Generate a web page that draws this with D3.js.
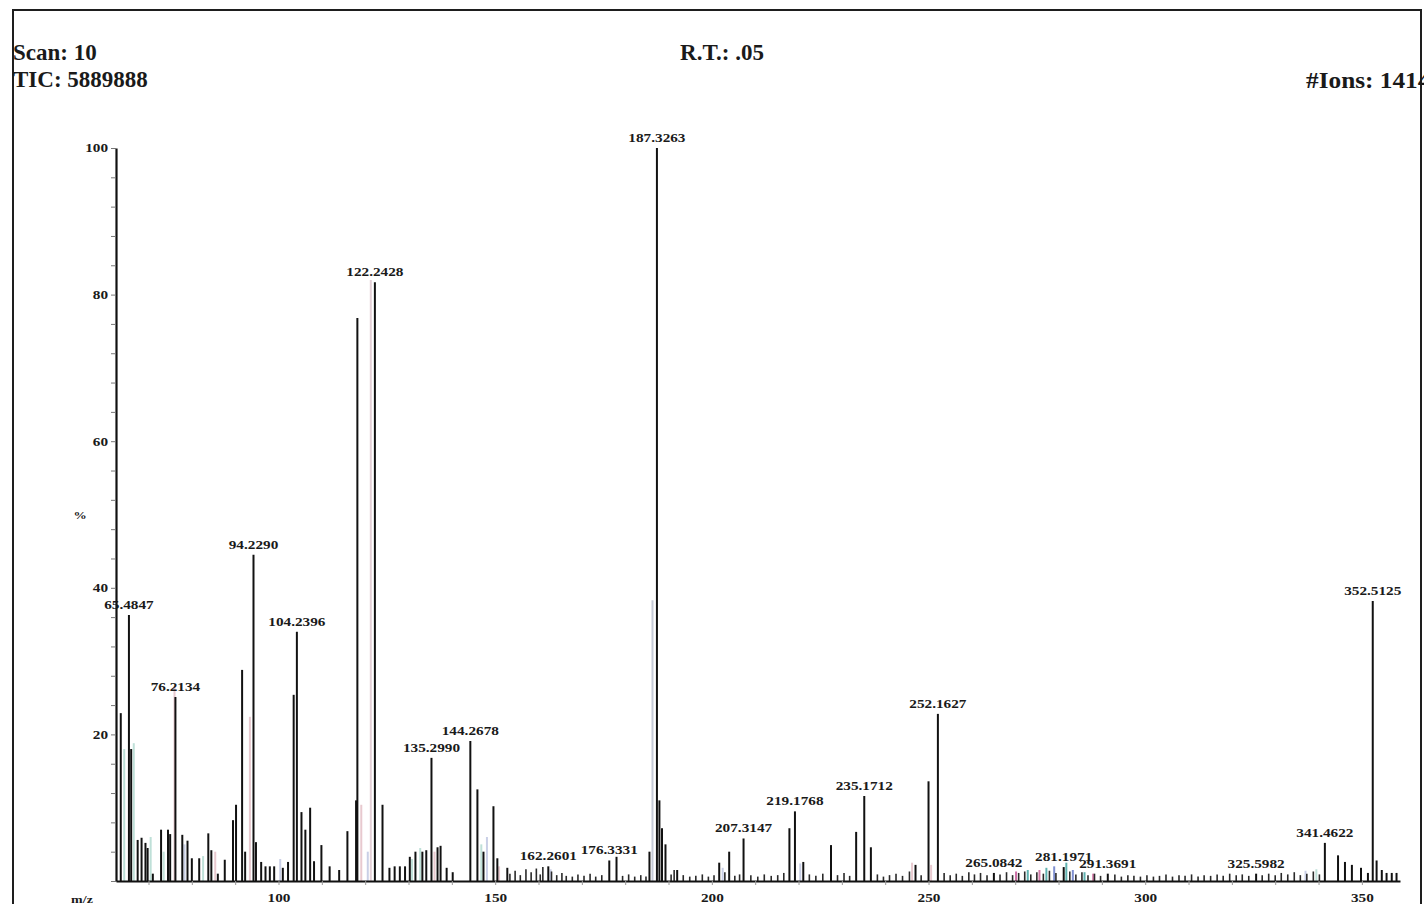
<!DOCTYPE html>
<html>
<head>
<meta charset="utf-8">
<script src="https://cdn.jsdelivr.net/npm/d3@7"></script>
<style>
  body { margin: 0; background: #fff; }
  svg { display: block; }
  text { font-family: "Liberation Serif", "Times New Roman", serif; font-weight: bold; fill: #1a1a1a; }
</style>
</head>
<body>
<svg id="svg"></svg>
<script>
// header info
const scanText = "Scan: 10"
const ticText = "TIC: 5889888"
const rtText = "R.T.: .05"
const ionsText = "#Ions: 1414"

// [m/z, relative %]
const majorPeaks = [
  [63.6, 22.9], [65.4847, 36.3], [66.0, 18], [67.5, 5.6], [68.4, 5.9], [69.3, 5.2], [69.8, 4.5],
  [71.0, 1.0], [72.9, 7.0], [74.5, 7.0], [75.0, 6.4], [76.2134, 25.1], [77.8, 6.3], [79.0, 5.5],
  [80.0, 3.1], [81.7, 3.1], [83.8, 6.5], [84.5, 4.2], [86.0, 1.0], [87.6, 2.9], [89.5, 8.3],
  [90.2, 10.4], [91.6, 28.8], [92.3, 4.0], [94.229, 44.5], [94.8, 5.3], [96.0, 2.6], [97.0, 2.0],
  [98.0, 2.0], [99.0, 2.0], [101.0, 1.8], [102.2, 2.6], [103.5, 25.4], [104.2396, 34.0],
  [105.3, 9.4], [106.2, 7.0], [107.3, 10.0], [108.2, 2.7], [109.9, 4.9], [111.8, 2.0], [114.0, 1.5],
  [115.9, 6.8], [117.9, 11.0], [118.2, 76.8], [122.2428, 81.7], [124.0, 10.4], [125.6, 1.8],
  [126.8, 2.0], [128.0, 2.0], [129.2, 2.0], [130.3, 3.3], [131.6, 4.0], [133.2, 4.0], [134.1, 4.2],
  [135.299, 16.8], [136.7, 4.6], [137.4, 4.8], [138.8, 1.8], [140.2, 1.2], [144.2678, 19.1],
  [145.9, 12.5], [147.3, 4.0], [149.6, 10.2], [150.5, 3.1], [152.8, 1.8], [162.2601, 2.0],
  [176.3331, 2.8], [178.0, 3.3], [185.6, 4.0], [187.3263, 100], [187.9, 11.0], [188.5, 7.2],
  [189.3, 5.0], [192.0, 1.5], [201.7, 2.5], [204.0, 4.0], [207.3147, 5.8], [217.9, 7.2],
  [219.1768, 9.5], [221.1, 2.6], [227.5, 4.9], [233.3, 6.7], [235.1712, 11.6], [236.7, 4.6],
  [247.0, 2.2], [250.0, 13.6], [252.1627, 22.8], [265.0842, 1.1], [281.1971, 1.9], [291.3691, 1.0],
  [325.5982, 1.0], [341.4622, 5.2], [344.5, 3.5], [346.1, 2.6], [347.7, 2.2], [349.8, 1.8],
  [351.4, 1.1], [352.5125, 38.2], [353.4, 2.8], [354.6, 1.5], [355.7, 1.1], [356.9, 1.1], [358.0, 1.1]
]

// small baseline peaks
const minorPeaks = [
  [153.4, 1.0], [154.6, 1.4], [155.8, 0.8], [157.1, 1.6], [158.3, 1.2], [159.5, 1.7], [160.4, 0.9],
  [161.0, 1.9], [163.0, 1.3], [164.2, 0.8], [165.4, 1.1], [166.4, 0.7], [167.8, 0.6], [169.1, 0.9],
  [170.5, 0.7], [171.9, 1.0], [173.2, 0.6], [174.6, 0.8], [179.4, 0.7], [180.8, 0.9], [182.2, 0.6],
  [183.6, 0.8], [184.8, 0.6], [190.6, 0.9], [191.3, 1.5], [193.4, 0.8], [194.9, 0.6], [196.3, 0.7],
  [197.8, 0.9], [199.2, 0.6], [200.5, 0.8], [203.0, 1.2], [205.3, 0.7], [206.4, 0.9], [209.0, 0.8],
  [210.6, 0.6], [212.1, 0.9], [213.7, 0.7], [215.2, 0.8], [216.6, 1.1], [222.5, 0.9], [224.0, 0.7],
  [225.6, 1.0], [229.0, 0.8], [230.5, 1.1], [231.8, 0.7], [238.2, 0.9], [239.6, 0.6], [241.0, 0.8],
  [242.5, 1.0], [244.0, 0.7], [245.6, 1.3], [248.3, 0.8], [253.6, 1.1], [255.0, 0.8], [256.4, 1.0],
  [257.8, 0.7], [259.3, 1.2], [260.6, 0.9], [262.0, 1.1], [263.5, 0.8], [266.5, 0.9], [268.0, 1.2],
  [269.4, 0.8], [270.8, 1.1], [272.2, 1.3], [273.6, 0.9], [275.0, 1.2], [276.5, 1.0], [277.9, 1.4],
  [279.4, 1.1], [282.6, 1.3], [284.0, 0.9], [285.4, 1.2], [286.8, 0.8], [288.3, 1.0], [289.7, 0.7],
  [293.0, 0.9], [294.5, 0.6], [296.0, 0.8], [297.4, 0.7], [298.9, 0.6], [300.4, 0.8], [301.9, 0.6],
  [303.3, 0.7], [304.8, 0.9], [306.3, 0.6], [307.8, 0.8], [309.2, 0.7], [310.7, 0.9], [312.2, 0.6],
  [313.6, 0.8], [315.1, 0.7], [316.6, 0.9], [318.0, 0.7], [319.5, 1.0], [321.0, 0.8], [322.4, 0.9],
  [323.9, 0.7], [327.0, 0.8], [328.5, 1.0], [330.0, 0.8], [331.4, 1.1], [332.9, 0.9], [334.4, 1.2],
  [335.8, 0.8], [337.3, 1.0], [338.8, 1.3], [340.2, 0.9]
]

// faint coloured peaks from the overlaid traces: [m/z, %, colour]
const ghostPeaks = [
  [64.4, 18, "#b9ddd4"], [66.6, 18.8, "#bfe0d8"], [70.5, 6, "#bfe0d8"], [73.5, 4, "#c3e3da"],
  [76.0, 26.5, "#e8c9cf"], [78.3, 5, "#c9cfe6"], [82.6, 3.4, "#bfe0d8"], [85.4, 4, "#e8c9cf"],
  [93.4, 22.4, "#e8c9cf"], [100.4, 3, "#c9cfe6"], [119.1, 10.4, "#e8c9cf"], [120.6, 4, "#c9cfe6"],
  [121.3, 82, "#e3d0d6"], [130.8, 3, "#bfe0d8"], [132.7, 4.5, "#bfe0d8"], [136.0, 4, "#e8c9cf"],
  [146.8, 5, "#bfe0d8"], [148.1, 6, "#c9cfe6"], [150.9, 2, "#e8c9cf"], [162.8, 1.6, "#c9cfe6"],
  [186.3, 38.3, "#c5cad6"], [202.5, 1.8, "#c9cfe6"], [220.4, 2.4, "#c9cfe6"], [246.2, 2.5, "#e8c9cf"],
  [250.6, 2.2, "#e8c9cf"], [270.2, 1.3, "#cc6fa5"], [272.9, 1.5, "#5fb2b0"], [275.6, 1.5, "#d37aa8"],
  [277.2, 1.8, "#5fb2b0"], [279.0, 2.0, "#7f8fd0"], [281.8, 2.5, "#5fb2b0"], [283.3, 1.5, "#7f8fd0"],
  [286.0, 1.2, "#5fb2b0"], [288.0, 1.0, "#d37aa8"], [337.0, 1.4, "#c9cfe6"], [339.5, 1.6, "#bfe0d8"]
]

// peaks that carry an m/z label
const labelledMz = [65.4847, 76.2134, 94.229, 104.2396, 122.2428, 135.299, 144.2678, 162.2601,
  176.3331, 187.3263, 207.3147, 219.1768, 235.1712, 252.1627, 265.0842, 281.1971, 291.3691,
  325.5982, 341.4622, 352.5125]
const labelText = ["65.4847", "76.2134", "94.2290", "104.2396", "122.2428", "135.2990", "144.2678",
  "162.2601", "176.3331", "187.3263", "207.3147", "219.1768", "235.1712", "252.1627", "265.0842",
  "281.1971", "291.3691", "325.5982", "341.4622", "352.5125"]

const yTickLabels = [20, 40, 60, 80, 100]
const xTickLabels = [100, 150, 200, 250, 300, 350]

const width = 1424, height = 904
const svg = d3.select("#svg").attr("width", width).attr("height", height)

const x = d3.scaleLinear().domain([62.5, 358.8]).range([116, 1400])
const y = d3.scaleLinear().domain([0, 100]).range([881, 148])

// the scan image is stretched sideways, so widen the small labels
function stretch(sel, k) {
  sel.each(function () {
    const w = this.getComputedTextLength()
    if (w > 0) {
      this.setAttribute("textLength", w * k)
      this.setAttribute("lengthAdjust", "spacingAndGlyphs")
    }
  })
}

// frame
svg.append("rect")
  .attr("x", 13).attr("y", 10)
  .attr("width", 1408).attr("height", 910)
  .attr("fill", "none").attr("stroke", "#1e1e1e").attr("stroke-width", 2)

// header
svg.append("text").attr("x", 13).attr("y", 60).attr("font-size", 23).text(scanText)
svg.append("text").attr("x", 13).attr("y", 87).attr("font-size", 23).text(ticText)
svg.append("text").attr("x", 722).attr("y", 60).attr("font-size", 23).attr("text-anchor", "middle").text(rtText)
const ions = svg.append("text").attr("x", 1306).attr("y", 88).attr("font-size", 23).text(ionsText)
stretch(ions, 1.1)

// faint traces
svg.append("g")
  .selectAll("line")
  .data(ghostPeaks)
  .join("line")
  .attr("x1", d => x(d[0])).attr("x2", d => x(d[0]))
  .attr("y1", y(0)).attr("y2", d => y(d[1]))
  .attr("stroke", d => d[2])
  .attr("stroke-width", 2)

// small peaks
svg.append("g")
  .selectAll("line")
  .data(minorPeaks)
  .join("line")
  .attr("x1", d => x(d[0])).attr("x2", d => x(d[0]))
  .attr("y1", y(0)).attr("y2", d => y(d[1]))
  .attr("stroke", "#2a2a2a")
  .attr("stroke-width", 1.6)

// main peaks
svg.append("g")
  .selectAll("line")
  .data(majorPeaks)
  .join("line")
  .attr("x1", d => x(d[0])).attr("x2", d => x(d[0]))
  .attr("y1", y(0)).attr("y2", d => y(d[1]))
  .attr("stroke", "#111")
  .attr("stroke-width", 2)

// axes
const yAxis = svg.append("g")
  .attr("transform", `translate(${x(62.5)},0)`)
  .call(d3.axisLeft(y)
    .tickValues(d3.range(0, 101, 4))
    .tickSize(5)
    .tickSizeOuter(0)
    .tickPadding(3)
    .tickFormat(d => yTickLabels.includes(d) ? d : ""))
yAxis.select(".domain").attr("stroke", "#111").attr("stroke-width", 2.2)
yAxis.selectAll(".tick line").attr("stroke", "#777")
yAxis.selectAll("text").attr("font-size", 12).attr("font-family", null).attr("fill", "#1a1a1a")
stretch(yAxis.selectAll("text"), 1.27)

const xAxis = svg.append("g")
  .attr("transform", `translate(0,${y(0)})`)
  .call(d3.axisBottom(x)
    .tickValues(d3.range(70, 351, 10))
    .tickSize(4)
    .tickSizeOuter(0)
    .tickPadding(8)
    .tickFormat(d => xTickLabels.includes(d) ? d : ""))
xAxis.select(".domain").attr("stroke", "#111").attr("stroke-width", 2.2)
xAxis.selectAll(".tick line").attr("stroke", "#999")
xAxis.selectAll("text").attr("font-size", 12).attr("font-family", null).attr("fill", "#1a1a1a")
stretch(xAxis.selectAll("text"), 1.27)

// axis titles
const pct = svg.append("text").attr("x", 80).attr("y", 519).attr("font-size", 11)
  .attr("text-anchor", "middle").text("%")
const mz = svg.append("text").attr("x", 82).attr("y", 903).attr("font-size", 11)
  .attr("text-anchor", "middle").text("m/z")
stretch(pct, 1.2)
stretch(mz, 1.27)

// peak labels
const peakHeight = new Map(majorPeaks.map(d => [d[0], d[1]]))
const labels = svg.append("g")
  .selectAll("text")
  .data(labelledMz)
  .join("text")
  .attr("x", d => x(d))
  .attr("y", d => y(peakHeight.get(d)) - 6)
  .attr("text-anchor", "middle")
  .attr("font-size", 12)
  .text((d, i) => labelText[i])
stretch(labels, 1.27)
</script>
</body>
</html>
